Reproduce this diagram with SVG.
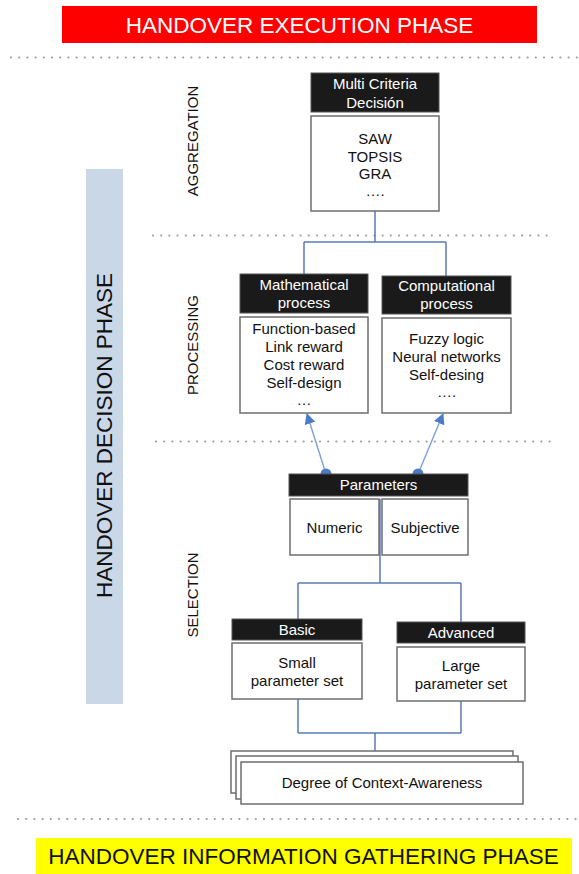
<svg xmlns="http://www.w3.org/2000/svg" width="579" height="874" viewBox="0 0 579 874">
<style>
text{font-family:"Liberation Sans",Arial,sans-serif;}
.hdr{fill:#1a1a1a;stroke:#555;stroke-width:1;}
.box{fill:#fff;stroke:#6e6e6e;stroke-width:1.5;}
.ht{fill:#fff;font-size:15px;text-anchor:middle;}
.bt{fill:#111;font-size:15px;text-anchor:middle;}
.lab{fill:#111;font-size:15px;text-anchor:middle;}
.dot{stroke:#9a9a9a;stroke-width:2.2;stroke-linecap:round;stroke-dasharray:0 8.2;fill:none;}
.con{stroke:#5a7bb5;stroke-width:1.5;fill:none;}
.arr{stroke:#7b9fd6;stroke-width:1.4;fill:none;}
</style>
<defs>
<marker id="ah" viewBox="0 0 10 10" refX="9" refY="5" markerWidth="11" markerHeight="11" markerUnits="userSpaceOnUse" orient="auto">
<path d="M0,0 L10,5 L0,10 z" fill="#4a7bc8"/>
</marker>
</defs>
<rect width="579" height="874" fill="#fff"/>

<g id="execution-phase">
<rect x="62" y="6" width="475" height="37" fill="#ff0000"/>
<text x="299.5" y="32.5" style="font-size:22.5px;fill:#fff;text-anchor:middle">HANDOVER EXECUTION PHASE</text>
</g>

<g id="separators">
<line class="dot" x1="11" y1="57.5" x2="579" y2="57.5"/>
<line class="dot" x1="153" y1="235.5" x2="550" y2="235.5"/>
<line class="dot" x1="156" y1="441.5" x2="550" y2="441.5"/>
<line class="dot" x1="18" y1="819" x2="579" y2="819"/>
</g>

<g id="decision-phase">
<rect x="86" y="169" width="37" height="535" fill="#c9d7e7"/>
<text transform="translate(111.5,435.5) rotate(-90)" style="font-size:22.5px;fill:#111;text-anchor:middle">HANDOVER DECISION PHASE</text>
</g>

<g id="stage-labels">
<text class="lab" transform="translate(198,141) rotate(-90)">AGGREGATION</text>
<text class="lab" transform="translate(197.5,345) rotate(-90)">PROCESSING</text>
<text class="lab" transform="translate(197.5,595) rotate(-90)">SELECTION</text>
</g>

<g id="connectors">
<path class="con" d="M375,211 V242 M304,242 H446 M304,242 V274 M446,242 V276"/>
<path class="con" d="M380,499 V583 M298,583 H461 M298,583 V619 M461,583 V622"/>
<path class="con" d="M298,699 V733 M461,701 V733 M298,733 H461 M375,733 V762"/>
<line class="arr" x1="326" y1="474" x2="307" y2="414" marker-end="url(#ah)"/>
<line class="arr" x1="418" y1="474" x2="443" y2="414" marker-end="url(#ah)"/>
<circle cx="326" cy="474" r="5.5" fill="#4a7bc8"/>
<circle cx="418" cy="474" r="5.5" fill="#4a7bc8"/>
</g>

<g id="mcd">
<rect class="hdr" x="311" y="73" width="128" height="39"/>
<text class="ht" x="375" y="88.5">Multi Criteria</text>
<text class="ht" x="375" y="108">Decisión</text>
<rect class="box" x="311" y="116" width="128" height="95"/>
<text class="bt" x="375" y="143.5">SAW</text>
<text class="bt" x="375" y="161.5">TOPSIS</text>
<text class="bt" x="375" y="179">GRA</text>
<text class="bt" x="375" y="196">….</text>
</g>

<g id="mathematical">
<rect class="hdr" x="240" y="274" width="128" height="39"/>
<text class="ht" x="304" y="289.5">Mathematical</text>
<text class="ht" x="304" y="307.5">process</text>
<rect class="box" x="240" y="317" width="128" height="96"/>
<text class="bt" x="304" y="333.5">Function-based</text>
<text class="bt" x="304" y="351.5">Link reward</text>
<text class="bt" x="304" y="369.5">Cost reward</text>
<text class="bt" x="304" y="387.5">Self-design</text>
<text class="bt" x="304" y="404.5">…</text>
</g>

<g id="computational">
<rect class="hdr" x="382" y="276" width="129" height="38"/>
<text class="ht" x="446.5" y="290.5">Computational</text>
<text class="ht" x="446.5" y="308.5">process</text>
<rect class="box" x="382" y="318" width="129" height="95"/>
<text class="bt" x="446.5" y="343.5">Fuzzy logic</text>
<text class="bt" x="446.5" y="361.5">Neural networks</text>
<text class="bt" x="446.5" y="379.5">Self-desing</text>
<text class="bt" x="446.5" y="397">….</text>
</g>

<g id="parameters">
<rect class="hdr" x="289" y="474" width="179" height="22"/>
<text class="ht" x="378.5" y="489.5">Parameters</text>
<rect class="box" x="290" y="499" width="89" height="56"/>
<text class="bt" x="334.5" y="532.5">Numeric</text>
<rect class="box" x="382" y="499" width="86" height="56"/>
<text class="bt" x="425" y="532.5">Subjective</text>
</g>

<g id="basic">
<rect class="hdr" x="232" y="619" width="130" height="21"/>
<text class="ht" x="297" y="634.5">Basic</text>
<rect class="box" x="232" y="643" width="130" height="56"/>
<text class="bt" x="297" y="667.5">Small</text>
<text class="bt" x="297" y="685.5">parameter set</text>
</g>

<g id="advanced">
<rect class="hdr" x="397" y="622" width="128" height="21"/>
<text class="ht" x="461" y="637.5">Advanced</text>
<rect class="box" x="397" y="647" width="128" height="54"/>
<text class="bt" x="461" y="670.5">Large</text>
<text class="bt" x="461" y="688.5">parameter set</text>
</g>

<g id="context-awareness">
<rect class="box" x="231" y="751" width="282" height="42"/>
<rect class="box" x="236" y="756" width="282" height="43"/>
<rect class="box" x="241" y="762" width="282" height="42"/>
<text class="bt" x="382" y="787.5">Degree of Context-Awareness</text>
</g>

<g id="gathering-phase">
<rect x="36" y="838" width="536" height="36" fill="#ffff00"/>
<text x="303.5" y="863.5" style="font-size:22.5px;fill:#111;text-anchor:middle">HANDOVER INFORMATION GATHERING PHASE</text>
</g>
</svg>
